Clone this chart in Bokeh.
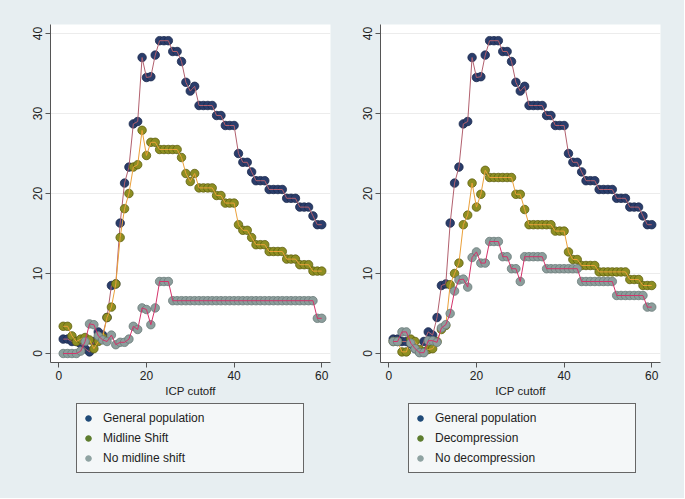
from bokeh.plotting import figure
from bokeh.layouts import row, column
from bokeh.models import Legend, LegendItem, FixedTicker, Range1d
from bokeh.embed import file_html
from bokeh.resources import INLINE

icp_cutoff = list(range(1, 61))

general_population = [1.8, 1.8, 1.5, 1.5, 1.2, 0.6, 0.2, 1.5, 2.7, 2.3,
                      4.5, 8.5, 8.7, 16.3, 21.3, 23.3, 28.7, 29.0, 37.0, 34.5,
                      34.6, 37.3, 39.1, 39.1, 39.1, 37.75, 37.75, 36.5, 33.9, 32.8,
                      33.4, 31.0, 31.0, 31.0, 31.0, 29.75, 29.75, 28.5, 28.5, 28.5,
                      25.0, 23.9, 23.9, 22.7, 21.6, 21.6, 21.6, 20.5, 20.5, 20.5,
                      20.5, 19.4, 19.4, 19.4, 18.3, 18.3, 18.3, 17.2, 16.1, 16.1]

midline_shift = [3.4, 3.4, 2.2, 1.5, 1.8, 2.0, 1.7, 0.6, 1.5, 2.0,
                 4.5, 5.8, 8.7, 14.5, 18.1, 20.0, 23.3, 23.6, 27.9, 24.75,
                 26.4, 26.4, 25.5, 25.5, 25.5, 25.5, 25.5, 24.5, 22.5, 21.5,
                 22.5, 20.7, 20.7, 20.7, 20.7, 19.75, 19.75, 18.8, 18.8, 18.8,
                 16.1, 15.4, 15.4, 14.5, 13.6, 13.6, 13.6, 12.75, 12.75, 12.75,
                 12.75, 11.8, 11.8, 11.8, 11.1, 11.1, 11.1, 10.3, 10.3, 10.3]

no_midline_shift = [0.0, 0.0, 0.0, 0.0, 0.3, 1.5, 3.7, 3.6, 2.2, 1.7,
                    1.5, 2.3, 1.1, 1.4, 1.4, 1.8, 3.4, 3.0, 5.7, 5.5,
                    3.6, 5.7, 9.0, 9.0, 9.0, 6.6, 6.6, 6.6, 6.6, 6.6,
                    6.6, 6.6, 6.6, 6.6, 6.6, 6.6, 6.6, 6.6, 6.6, 6.6,
                    6.6, 6.6, 6.6, 6.6, 6.6, 6.6, 6.6, 6.6, 6.6, 6.6,
                    6.6, 6.6, 6.6, 6.6, 6.6, 6.6, 6.6, 6.6, 4.4, 4.4]

decompression = [1.5, 1.5, 0.2, 0.2, 1.8, 1.5, 0.5, 0.2, 0.5, 0.6,
                 1.5, 3.0, 3.5, 8.6, 10.0, 11.3, 16.1, 17.3, 21.3, 18.3,
                 19.9, 22.9, 22.0, 22.0, 22.0, 22.0, 22.0, 22.0, 19.9, 19.9,
                 18.0, 16.1, 16.1, 16.1, 16.1, 16.1, 16.1, 15.3, 15.3, 15.3,
                 12.7, 11.75, 11.75, 11.0, 11.0, 11.0, 11.0, 10.2, 10.2, 10.2,
                 10.2, 10.2, 10.2, 10.2, 9.25, 9.25, 9.25, 8.5, 8.5, 8.5]

no_decompression = [1.5, 1.5, 2.7, 2.7, 1.3, 0.6, 0.1, 0.1, 1.6, 1.6,
                    1.4, 3.2, 3.6, 5.0, 7.8, 9.2, 9.3, 8.3, 12.0, 12.7,
                    11.3, 11.3, 14.0, 14.0, 14.0, 12.1, 12.1, 10.6, 10.6, 9.0,
                    12.1, 12.1, 12.1, 12.1, 12.1, 10.6, 10.6, 10.6, 10.6, 10.6,
                    10.6, 10.6, 10.6, 9.0, 9.0, 9.0, 9.0, 9.0, 9.0, 9.0,
                    9.0, 7.25, 7.25, 7.25, 7.25, 7.25, 7.25, 7.25, 5.8, 5.8]

x_ticks = [0, 20, 40, 60]
y_ticks = [0, 10, 20, 30, 40]
x_label = "ICP cutoff"
left_labels = ["General population", "Midline Shift", "No midline shift"]
right_labels = ["General population", "Decompression", "No decompression"]

OUTER = "#e7eef1"
FONT = "Liberation Sans"

marker_fill = ["#2a3d6b", "#8d8e22", "#8c9e9c"]
marker_line = ["#1c2a4c", "#5e5f10", "#6a7a78"]
line_cols = ["#b2606e", "#eaa03a", "#d4336a"]
legend_cols = ["#1f4a78", "#5d7d2e", "#8fa3a2"]


def make_panel(series, border_left, border_right):
    p = figure(frame_width=280, frame_height=338, output_backend="svg", toolbar_location=None,
               x_range=Range1d(-1.9, 62.0), y_range=Range1d(-1.125, 41.125),
               min_border_left=border_left, min_border_right=border_right,
               min_border_top=24, min_border_bottom=40)
    p.background_fill_color = "white"
    p.border_fill_color = OUTER
    p.outline_line_color = None

    for i, ys in enumerate(series):
        p.scatter(icp_cutoff, ys, size=8.5, fill_color=marker_fill[i],
                  line_color=marker_line[i], line_width=0.8)
        p.line(icp_cutoff, ys, line_color=line_cols[i], line_width=1.0)

    for ax in (p.xaxis, p.yaxis):
        ax.axis_line_color = "#555555"
        ax.major_tick_line_color = "#555555"
        ax.major_tick_out = 5
        ax.major_tick_in = 0
        ax.minor_tick_line_color = None
        ax.major_label_text_font = FONT
        ax.major_label_text_font_size = "12px"
        ax.major_label_text_color = "#222222"

    p.xaxis.ticker = FixedTicker(ticks=x_ticks)
    p.yaxis.ticker = FixedTicker(ticks=y_ticks)
    p.yaxis.major_label_orientation = "vertical"
    p.yaxis.major_label_standoff = 4
    p.xaxis.major_label_standoff = 3
    p.xaxis.axis_label = x_label
    p.xaxis.axis_label_text_font = FONT
    p.xaxis.axis_label_text_font_size = "11.5px"
    p.xaxis.axis_label_text_font_style = "normal"
    p.xaxis.axis_label_text_color = "#222222"
    p.xaxis.axis_label_standoff = 2

    p.xgrid.grid_line_color = None
    p.ygrid.ticker = FixedTicker(ticks=y_ticks)
    p.ygrid.grid_line_color = "#ececec"
    p.ygrid.grid_line_width = 1
    return p


def make_legend(labels, width, offset_x):
    lf = figure(width=width, height=96, output_backend="svg", toolbar_location=None,
                x_range=Range1d(0, 1), y_range=Range1d(0, 1),
                x_axis_type=None, y_axis_type=None,
                min_border=0)
    lf.background_fill_color = OUTER
    lf.border_fill_color = OUTER
    lf.outline_line_color = None
    lf.xgrid.grid_line_color = None
    lf.ygrid.grid_line_color = None
    items = []
    for i, lab in enumerate(labels):
        r = lf.scatter([-10], [-10], size=6, fill_color=legend_cols[i],
                       line_color=legend_cols[i])
        items.append(LegendItem(label=lab, renderers=[r]))
    leg = Legend(items=items, location=(offset_x, 25), orientation="vertical",
                 padding=4, spacing=0, glyph_width=14, glyph_height=20,
                 label_standoff=8, label_width=196, label_height=20,
                 label_text_font=FONT, label_text_font_size="12px",
                 label_text_color="#222222",
                 background_fill_color="#f4f7f8", background_fill_alpha=1.0,
                 border_line_color="#666666", border_line_width=1,
                 border_line_alpha=1.0, margin=0)
    lf.add_layout(leg, "center")
    return lf


p1 = make_panel([general_population, midline_shift, no_midline_shift], 50, 12)
p2 = make_panel([general_population, decompression, no_decompression], 38, 24)
l1 = make_legend(left_labels, 342, 26)
l2 = make_legend(right_labels, 342, 28)

layout = row(column(p1, l1, spacing=0), column(p2, l2, spacing=0), spacing=0)
layout.styles = {"background-color": OUTER}

open("out.html", "w").write(file_html(layout, INLINE))
